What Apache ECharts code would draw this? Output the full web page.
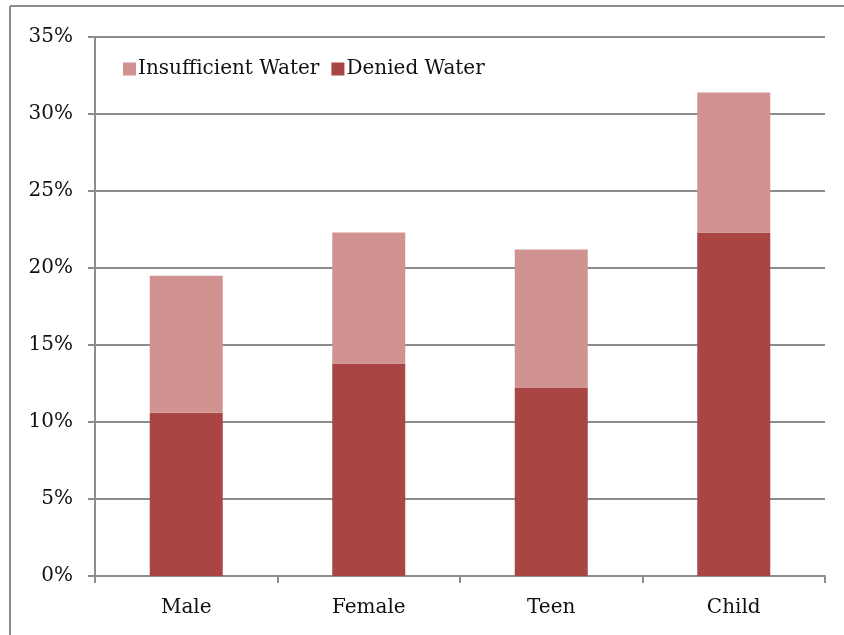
<!DOCTYPE html>
<html>
<head>
<meta charset="utf-8">
<script src="https://cdn.jsdelivr.net/npm/echarts@6/dist/echarts.min.js"></script>
<style>
  html, body { margin: 0; padding: 0; background: #fff; }
  #chart { width: 844px; height: 635px; }
</style>
</head>
<body>
<div id="chart"></div>
<script>
var categories = ['Male', 'Female', 'Teen', 'Child'];
var deniedWater = [10.6, 13.8, 12.2, 22.3];
var insufficientWater = [8.9, 8.5, 9.0, 9.1];

var font = '"DejaVu Serif", serif';
var axisGray = '#8c8c8c';

var myChart = echarts.init(document.getElementById('chart'));
var option = {
    animation: false,
    backgroundColor: '#fff',
    graphic: [
        { type: 'line', shape: { x1: 10, y1: 6, x2: 844, y2: 6 }, style: { stroke: '#8c8c8c', lineWidth: 2 } },
        { type: 'line', shape: { x1: 10, y1: 6, x2: 10, y2: 635 }, style: { stroke: '#8c8c8c', lineWidth: 2 } }
    ],
    grid: { left: 95, right: 19, top: 37, bottom: 59 },
    legend: {
        left: 118, top: 54,
        itemWidth: 13, itemHeight: 13, itemGap: 12,
        icon: 'rect',
        textStyle: { fontFamily: font, fontSize: 20, color: '#111', padding: [0, 0, 0, -3] },
        data: ['Insufficient Water', 'Denied Water']
    },
    xAxis: {
        type: 'category',
        data: categories,
        axisLine: { lineStyle: { color: axisGray, width: 2 } },
        axisTick: { show: true, length: 7, lineStyle: { color: axisGray, width: 2 } },
        axisLabel: { fontFamily: font, fontSize: 20, color: '#111', margin: 22 }
    },
    yAxis: {
        type: 'value',
        min: 0, max: 35, interval: 5,
        axisLine: { show: true, lineStyle: { color: axisGray, width: 2 } },
        axisTick: { show: true, length: 7, lineStyle: { color: axisGray, width: 2 } },
        splitLine: { lineStyle: { color: axisGray, width: 2 } },
        axisLabel: { fontFamily: font, fontSize: 20, color: '#111', margin: 22, formatter: '{value}%' }
    },
    series: [
        {
            name: 'Denied Water',
            type: 'bar',
            stack: 'total',
            barWidth: '40%',
            itemStyle: { color: '#a94644' },
            data: deniedWater
        },
        {
            name: 'Insufficient Water',
            type: 'bar',
            stack: 'total',
            barWidth: '40%',
            itemStyle: { color: '#d09391' },
            data: insufficientWater
        }
    ]
};
myChart.setOption(option);
</script>
</body>
</html>
